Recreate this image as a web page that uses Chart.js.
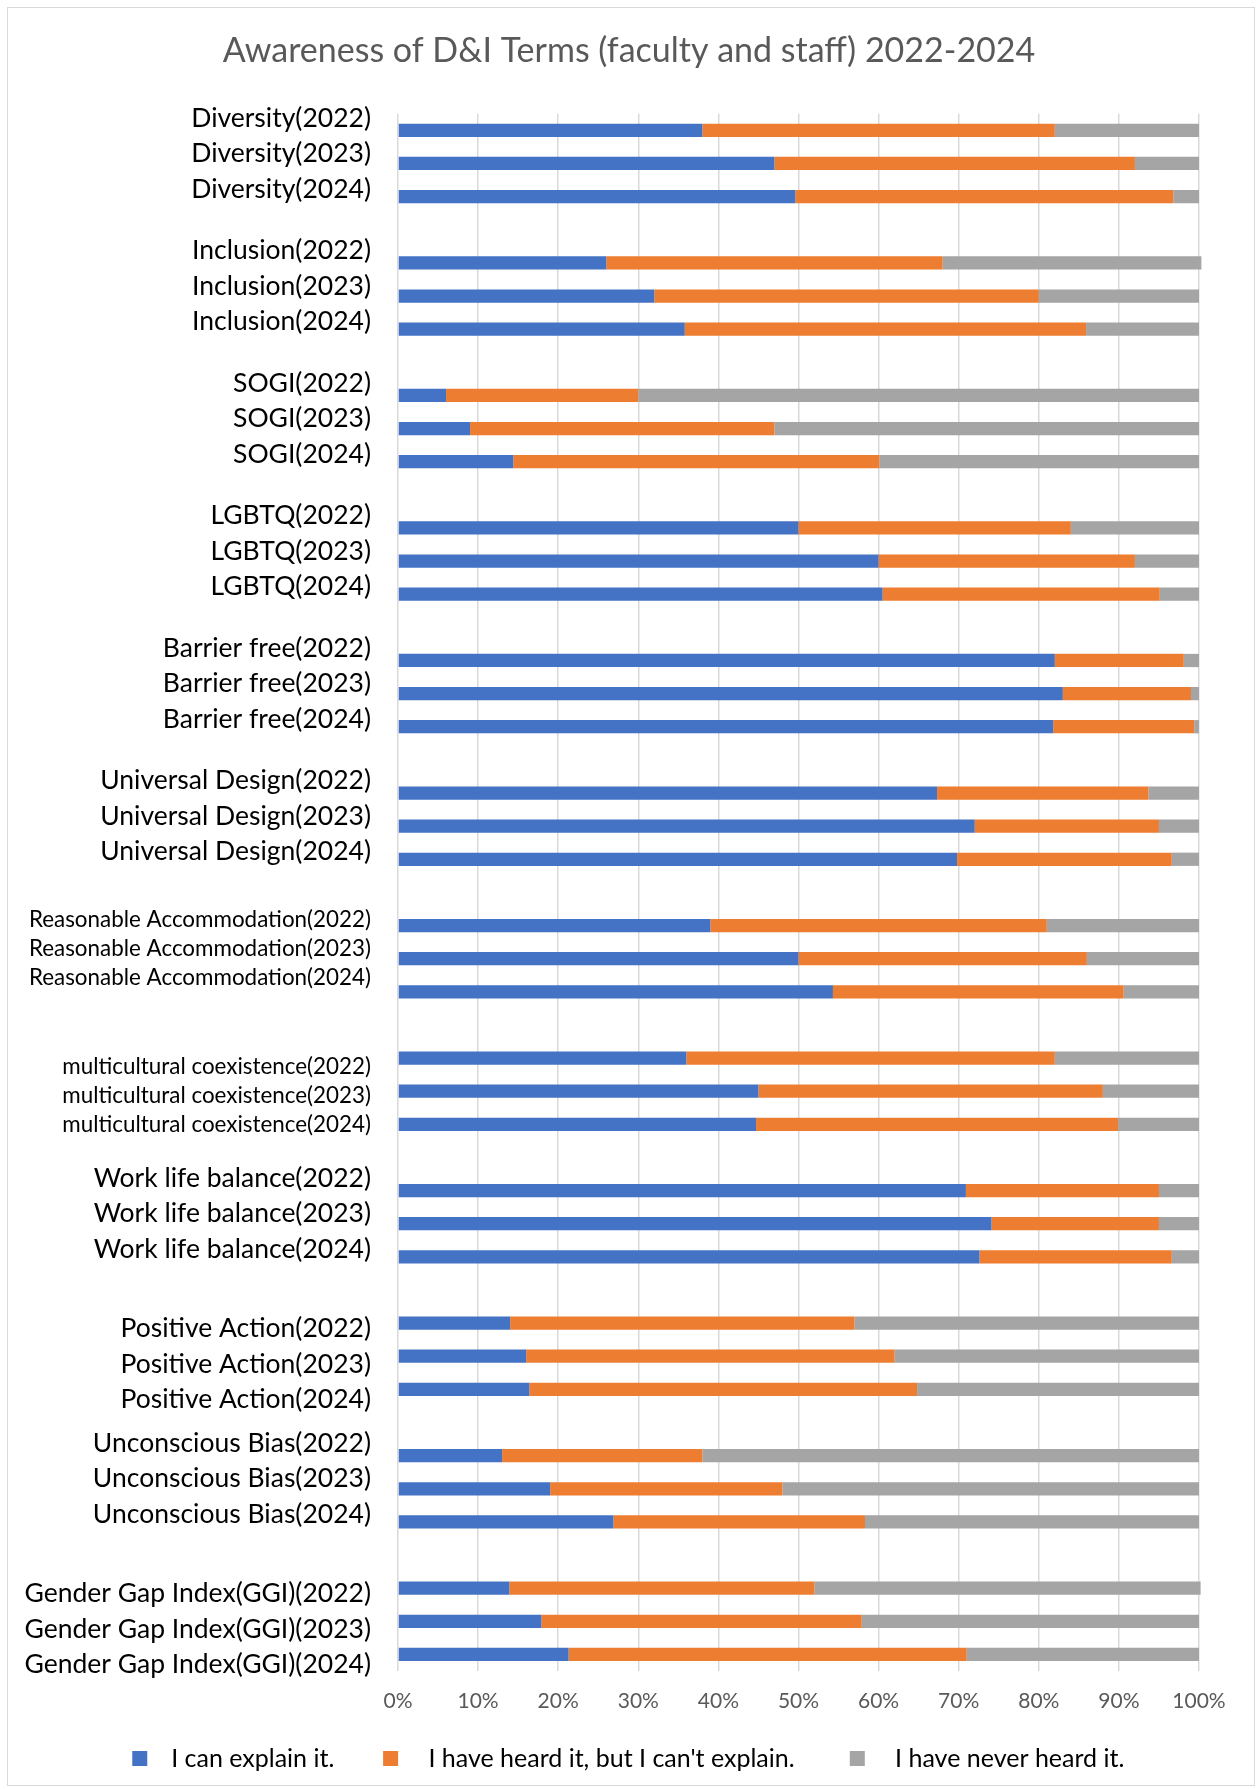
<!DOCTYPE html>
<html>
<head>
<meta charset="utf-8">
<title>Awareness of D&amp;I Terms (faculty and staff) 2022-2024</title>
<script src="https://cdn.jsdelivr.net/npm/chart.js@4.4.1/dist/chart.umd.min.js"></script>
<style>
  html, body { margin: 0; padding: 0; background: #fff; }
  #wrap { position: relative; width: 1258px; height: 1789px; }
  #wrap canvas { position: absolute; left: 0; top: 0; }
  #frame { position: absolute; left: 7px; top: 7px; right: 3px; bottom: 3px; border: 1px solid #d9d9d9; pointer-events: none; }
</style>
</head>
<body>
<div id="wrap">
  <canvas id="awarenessChart" width="1258" height="1789"></canvas>
  <div id="frame"></div>
</div>
<script>
/* Awareness of D&I terms, stacked horizontal bars */
const terms = ['Diversity', 'Inclusion', 'SOGI', 'LGBTQ', 'Barrier free', 'Universal Design',
  'Reasonable Accommodation', 'multicultural coexistence', 'Work life balance',
  'Positive Action', 'Unconscious Bias', 'Gender Gap Index(GGI)'];
const years = ['2022', '2023', '2024'];
const smallTerms = ['Reasonable Accommodation', 'multicultural coexistence'];
// these label blocks sit a bit lower in the original
const lowTerms = ['multicultural coexistence', 'Positive Action', 'Gender Gap Index(GGI)'];

// % of respondents, term by term, 2022 / 2023 / 2024
const canExplain = [38.0, 47.0, 49.6, 26.0, 32.0, 35.8, 6.0, 9.0, 14.4, 50.0, 60.0, 60.5,
  82.0, 83.0, 81.8, 67.3, 72.0, 69.8, 39.0, 50.0, 54.3, 36.0, 45.0, 44.7,
  70.9, 74.1, 72.6, 14.0, 16.0, 16.4, 13.0, 19.0, 26.9, 13.9, 17.9, 21.3];
const heardOnly = [44.0, 45.0, 47.2, 42.0, 48.0, 50.1, 24.0, 38.0, 45.7, 34.0, 32.0, 34.6,
  16.1, 16.0, 17.6, 26.4, 23.0, 26.8, 42.0, 36.0, 36.3, 46.0, 43.0, 45.2,
  24.1, 20.9, 24.0, 43.0, 46.0, 48.4, 25.0, 29.0, 31.4, 38.1, 40.0, 49.7];
const neverHeard = [18.0, 8.0, 3.2, 32.3, 20.0, 14.1, 70.0, 53.0, 39.9, 16.0, 8.0, 4.9,
  1.9, 1.0, 0.6, 6.3, 5.0, 3.4, 19.0, 14.0, 9.4, 18.0, 12.0, 10.1,
  5.0, 5.0, 3.4, 43.0, 38.0, 35.2, 62.0, 52.0, 41.7, 48.2, 42.1, 29.0];

const seriesNames = ['I can explain it.', "I have heard it, but I can't explain.", 'I have never heard it.'];
const seriesColors = ['#4472C4', '#ED7D31', '#A5A5A5'];
const xTickLabels = ['0%', '10%', '20%', '30%', '40%', '50%', '60%', '70%', '80%', '90%', '100%'];

(function () {
  // one row per bar, an empty row between terms; the 3-line label sits on the middle bar
  const rowLabels = [], rowSmall = [];
  const rows = [[], [], []];
  const src = [canExplain, heardOnly, neverHeard];

  terms.forEach((term, g) => {
    if (g > 0) {
      rowLabels.push('');
      rowSmall.push(false);
      rows.forEach(r => r.push(null));
    }
    years.forEach((yr, k) => {
      const i = g * 3 + k;
      let lbl = '';
      if (k === 1) {
        lbl = years.map(y => term + '(' + y + ')');
        if (lowTerms.includes(term)) lbl.unshift('');
      }
      rowLabels.push(lbl);
      rowSmall.push(smallTerms.includes(term));
      rows.forEach((r, s) => r.push(src[s][i]));
    });
  });

  const family = "Lato, 'Open Sans', sans-serif";
  Chart.defaults.font.family = family;

  // spacing around legend texts (the padding option also sets the space above them)
  const legendLead = [' ', '  ', '  '];
  const legendTail = ['  ', '   ', ' '];
  const baseLabels = Chart.defaults.plugins.legend.labels.generateLabels;

  new Chart(document.getElementById('awarenessChart'), {
    type: 'bar',
    data: {
      labels: rowLabels,
      datasets: seriesNames.map((name, s) => ({
        label: name,
        data: rows[s],
        backgroundColor: seriesColors[s],
        borderWidth: 0,
        barPercentage: 0.4,
        categoryPercentage: 1,
        clip: false
      }))
    },
    options: {
      indexAxis: 'y',
      responsive: false,
      animation: false,
      layout: { padding: { left: 0, right: 0, top: 0, bottom: 8 } },
      plugins: {
        title: {
          display: true,
          text: 'Awareness of D&I Terms (faculty and staff) 2022-2024',
          color: '#595959',
          font: { family, size: 34, weight: 'normal', lineHeight: 1.2 },
          padding: { top: 31, bottom: 42 }
        },
        legend: {
          position: 'bottom',
          labels: {
            usePointStyle: true,
            pointStyle: 'rect',
            boxWidth: 25,
            boxHeight: 15,
            padding: 31,
            color: '#000',
            font: { family, size: 25 },
            generateLabels: chart => baseLabels(chart).map((it, i) => {
              it.text = legendLead[i] + it.text + legendTail[i];
              return it;
            })
          }
        },
        tooltip: { enabled: false }
      },
      scales: {
        x: {
          stacked: true,
          min: 0,
          max: 100,
          ticks: {
            stepSize: 10,
            padding: 18,
            color: '#595959',
            font: { family, size: 21 },
            callback: (v, i) => xTickLabels[i]
          },
          grid: { color: '#d9d9d9', lineWidth: 1.5, drawTicks: false },
          border: { display: false },
          afterFit: s => { s.height = 44; s.paddingRight = 59; }
        },
        y: {
          stacked: true,
          grid: { display: false, drawTicks: false },
          border: { display: false },
          ticks: {
            autoSkip: false,
            padding: 27,
            labelOffset: -10,
            color: '#000',
            font: ctx => rowSmall[ctx.index]
              ? { family, size: 22.4, lineHeight: '29px' }
              : { family, size: 26.5, lineHeight: '35.5px' }
          },
          afterFit: s => { s.width = 398; }
        }
      }
    }
  });
})();
</script>
</body>
</html>
